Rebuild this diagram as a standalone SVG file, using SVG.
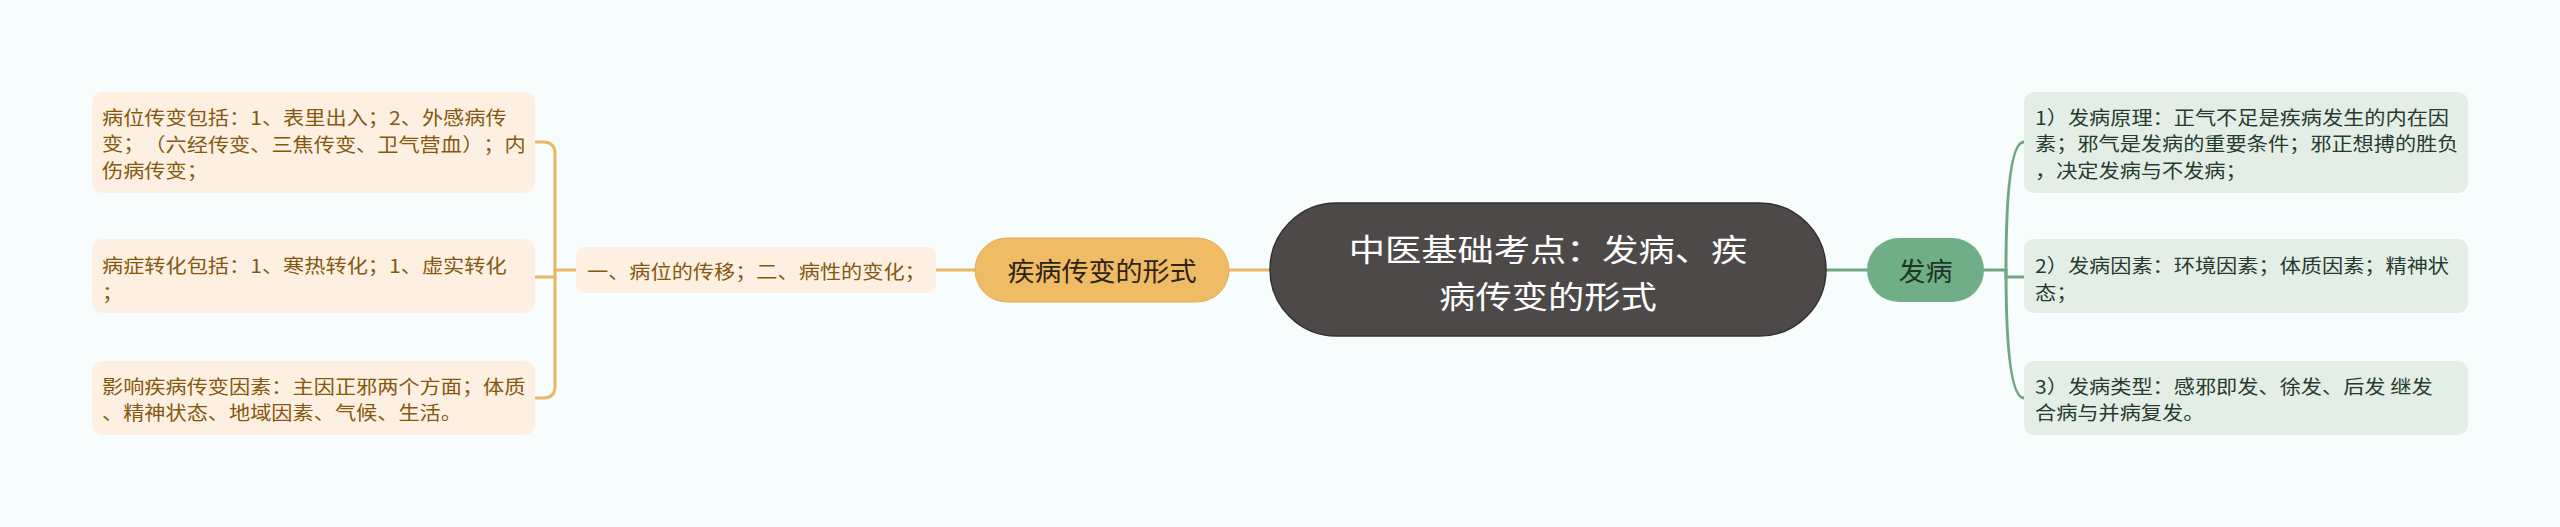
<svg xmlns="http://www.w3.org/2000/svg" width="2560" height="527" viewBox="0 0 2560 527">
  <style>
    text { font-family: "Noto Sans CJK SC", "Noto Sans", sans-serif; dominant-baseline: central; text-spacing-trim: space-all; font-kerning: none; }
    .leafO { fill: #fdf0e2; }
    .leafG { fill: #e3efe6; }
    .tO { font-size: 19px; fill: #86580f; }
    .tG { font-size: 19px; fill: #263b2d; }
    .lineO { fill: none; stroke: #eab665; stroke-width: 3; stroke-linecap: round; }
    .lineG { fill: none; stroke: #6fa882; stroke-width: 3; stroke-linecap: round; }
  </style>
  <rect x="0" y="0" width="2560" height="527" fill="#f7fcfc"/>

  <g id="connectors">
    <path class="lineO" d="M1229 270 L1270 270"/>
    <path class="lineO" d="M936 270 L975 270"/>
    <path class="lineO" d="M576 270 L555 270"/>
    <path class="lineO" d="M555 270 L555 154 Q555 142 543 142 L535 142"/>
    <path class="lineO" d="M555 270 L555 386 Q555 398 543 398 L535 398"/>
    <path class="lineO" d="M555 277 L535 277"/>
    <path class="lineG" d="M1826 270 L1867 270"/>
    <path class="lineG" d="M1984 270 L2006 270"/>
    <path class="lineG" d="M2006 270 Q2006 142 2024 142"/>
    <path class="lineG" d="M2006 270 Q2006 398 2024 398"/>
    <path class="lineG" d="M2006 270 L2006 277 L2024 277"/>
  </g>

  <g id="root">
    <rect x="1270" y="203" width="556" height="133" rx="66.5" fill="#4e4949" stroke="#353131" stroke-width="1.5"/>
    <g transform="translate(1548 0) scale(1.17 1)">
      <text x="0" y="247.5" text-anchor="middle" font-size="31" fill="#ffffff">中医基础考点：发病、疾</text>
      <text x="0" y="295" text-anchor="middle" font-size="31" fill="#ffffff">病传变的形式</text>
    </g>
  </g>

  <g id="node-jibing">
    <rect x="975" y="238" width="254" height="64" rx="32" fill="#efbb64" stroke="#e4ad55" stroke-width="1"/>
    <g transform="translate(1102 0) scale(1.04 1)">
      <text x="0" y="270" text-anchor="middle" font-size="26" fill="#2e2416">疾病传变的形式</text>
    </g>
  </g>

  <g id="node-mid">
    <rect x="576" y="247" width="360" height="46" rx="9" class="leafO"/>
    <g transform="translate(587 0) scale(1.115 1)">
      <text class="tO" x="0" y="271">一、病位的传移；二、病性的变化；</text>
    </g>
  </g>

  <g id="leaf-o1">
    <rect x="92" y="92" width="443" height="101" rx="10" class="leafO"/>
    <g transform="translate(102 0) scale(1.115 1)">
      <text class="tO" x="0" y="116.5">病位传变包括：1、表里出入；2、外感病传</text>
      <text class="tO" x="0" y="143.2">变；<tspan x="38">（</tspan><tspan x="57">六经传变、三焦传变、卫气营血</tspan><tspan x="323">）</tspan><tspan x="342">；</tspan><tspan x="361">内</tspan></text>
      <text class="tO" x="0" y="169.9">伤病传变；</text>
    </g>
  </g>

  <g id="leaf-o2">
    <rect x="92" y="239" width="443" height="74" rx="10" class="leafO"/>
    <g transform="translate(102 0) scale(1.115 1)">
      <text class="tO" x="0" y="265">病症转化包括：1、寒热转化；1、虚实转化</text>
      <text class="tO" x="0" y="291.7">；</text>
    </g>
  </g>

  <g id="leaf-o3">
    <rect x="92" y="361" width="443" height="74" rx="10" class="leafO"/>
    <g transform="translate(102 0) scale(1.115 1)">
      <text class="tO" x="0" y="385.5">影响疾病传变因素：主因正邪两个方面；体质</text>
      <text class="tO" x="0" y="412.2">、精神状态、地域因素、气候、生活。</text>
    </g>
  </g>

  <g id="node-fabing">
    <rect x="1867" y="238" width="117" height="64" rx="32" fill="#6fae86"/>
    <g transform="translate(1925.5 0) scale(1.04 1)">
      <text x="0" y="270" text-anchor="middle" font-size="26" fill="#1f3526">发病</text>
    </g>
  </g>

  <g id="leaf-g1">
    <rect x="2024" y="92" width="444" height="101" rx="10" class="leafG"/>
    <g transform="translate(2035 0) scale(1.115 1)">
      <text class="tG" x="0" y="116.5">1）发病原理：正气不足是疾病发生的内在因</text>
      <text class="tG" x="0" y="143.2">素；邪气是发病的重要条件；邪正想搏的胜负</text>
      <text class="tG" x="0" y="169.9">，决定发病与不发病；</text>
    </g>
  </g>

  <g id="leaf-g2">
    <rect x="2024" y="239" width="444" height="74" rx="10" class="leafG"/>
    <g transform="translate(2035 0) scale(1.115 1)">
      <text class="tG" x="0" y="265">2）发病因素：环境因素；体质因素；精神状</text>
      <text class="tG" x="0" y="291.7">态；</text>
    </g>
  </g>

  <g id="leaf-g3">
    <rect x="2024" y="361" width="444" height="74" rx="10" class="leafG"/>
    <g transform="translate(2035 0) scale(1.115 1)">
      <text class="tG" x="0" y="385.5">3）发病类型：感邪即发、徐发、后发 继发</text>
      <text class="tG" x="0" y="412.2">合病与并病复发。</text>
    </g>
  </g>
</svg>
